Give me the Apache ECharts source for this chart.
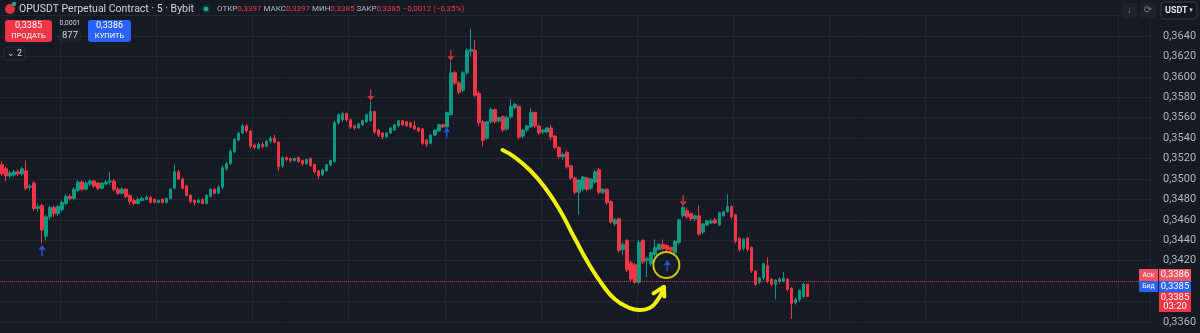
<!DOCTYPE html>
<html><head><meta charset="utf-8">
<script src="https://cdn.jsdelivr.net/npm/echarts/dist/echarts.min.js"></script>
<style>html,body{margin:0;padding:0;background:#161a25;}#c{width:1200px;height:333px;}</style>
</head><body><div id="c"></div><script>
// ---- data ----
const symbolTitle = 'OPUSDT Perpetual Contract · 5 · Bybit';
const ohlcLabels = ['ОТКР', 'МАКС', 'МИН', 'ЗАКР'];
const ohlcValues = ['0,3397', '0,3397', '0,3385', '0,3385'];
const changeText = '−0,0012 (−0,35%)';
const sellPrice = '0,3385', buyPrice = '0,3386', spreadTick = '0,0001', qty = '877';
const priceTicks = [0.3360, 0.3380, 0.3400, 0.3420, 0.3440, 0.3460, 0.3480, 0.3500, 0.3520, 0.3540, 0.3560, 0.3580, 0.3600, 0.3620, 0.3640];
const hiddenTicks = ['0,3380', '0,3400', '0,3660'];
const lastPrice = 0.3385;
const countdown = '03:20';
// candles: [open, close, low, high]
const ohlc = [
[0.3514,0.3505,0.3503,0.3517],[0.3510,0.3503,0.3498,0.3512],[0.3503,0.3506,0.3501,0.3508],[0.3504,0.3507,0.3502,0.3509],
[0.3507,0.3505,0.3503,0.3509],[0.3505,0.3510,0.3503,0.3512],[0.3508,0.3491,0.3489,0.3518],[0.3492,0.3493,0.3489,0.3495],
[0.3496,0.3471,0.3469,0.3498],[0.3471,0.3473,0.3468,0.3476],[0.3474,0.3450,0.3437,0.3476],[0.3444,0.3463,0.3440,0.3465],
[0.3463,0.3472,0.3460,0.3474],[0.3472,0.3466,0.3463,0.3474],[0.3466,0.3473,0.3464,0.3475],[0.3470,0.3477,0.3468,0.3479],
[0.3476,0.3483,0.3474,0.3485],[0.3483,0.3481,0.3479,0.3485],[0.3481,0.3490,0.3479,0.3492],[0.3489,0.3497,0.3487,0.3499],
[0.3497,0.3490,0.3488,0.3499],[0.3490,0.3496,0.3489,0.3498],[0.3495,0.3498,0.3493,0.3500],[0.3498,0.3493,0.3491,0.3499],
[0.3496,0.3491,0.3489,0.3497],[0.3491,0.3496,0.3490,0.3497],[0.3495,0.3497,0.3494,0.3499],[0.3497,0.3498,0.3494,0.3507],
[0.3498,0.3490,0.3488,0.3500],[0.3490,0.3486,0.3484,0.3492],[0.3486,0.3490,0.3485,0.3492],[0.3490,0.3483,0.3481,0.3491],
[0.3484,0.3478,0.3475,0.3485],[0.3479,0.3476,0.3474,0.3481],[0.3476,0.3480,0.3475,0.3482],[0.3479,0.3481,0.3478,0.3483],
[0.3480,0.3482,0.3479,0.3484],[0.3482,0.3477,0.3476,0.3483],[0.3480,0.3477,0.3476,0.3481],[0.3477,0.3479,0.3476,0.3480],
[0.3480,0.3477,0.3476,0.3481],[0.3477,0.3481,0.3476,0.3482],[0.3481,0.3490,0.3480,0.3491],[0.3491,0.3507,0.3490,0.3514],
[0.3507,0.3500,0.3499,0.3509],[0.3500,0.3491,0.3490,0.3501],[0.3493,0.3484,0.3483,0.3494],[0.3484,0.3478,0.3476,0.3485],
[0.3479,0.3477,0.3474,0.3480],[0.3477,0.3479,0.3476,0.3481],[0.3480,0.3476,0.3475,0.3481],[0.3476,0.3484,0.3475,0.3485],
[0.3483,0.3490,0.3482,0.3491],[0.3490,0.3486,0.3485,0.3491],[0.3486,0.3492,0.3485,0.3494],[0.3492,0.3511,0.3490,0.3513],
[0.3510,0.3515,0.3508,0.3517],[0.3515,0.3527,0.3514,0.3529],[0.3527,0.3539,0.3525,0.3540],[0.3538,0.3545,0.3537,0.3546],
[0.3545,0.3552,0.3544,0.3554],[0.3552,0.3547,0.3545,0.3554],[0.3547,0.3532,0.3530,0.3548],[0.3533,0.3531,0.3529,0.3535],
[0.3530,0.3534,0.3529,0.3536],[0.3534,0.3532,0.3530,0.3536],[0.3532,0.3537,0.3531,0.3538],[0.3537,0.3540,0.3535,0.3542],
[0.3540,0.3536,0.3535,0.3543],[0.3536,0.3512,0.3508,0.3537],[0.3513,0.3521,0.3511,0.3522],[0.3521,0.3519,0.3517,0.3522],
[0.3520,0.3518,0.3516,0.3521],[0.3518,0.3520,0.3517,0.3521],[0.3521,0.3517,0.3516,0.3522],[0.3518,0.3515,0.3513,0.3519],
[0.3515,0.3519,0.3514,0.3520],[0.3520,0.3513,0.3512,0.3521],[0.3514,0.3507,0.3505,0.3515],[0.3508,0.3503,0.3500,0.3509],
[0.3504,0.3509,0.3503,0.3510],[0.3508,0.3514,0.3507,0.3515],[0.3514,0.3518,0.3512,0.3519],[0.3517,0.3555,0.3516,0.3557],
[0.3555,0.3563,0.3553,0.3564],[0.3558,0.3564,0.3556,0.3566],[0.3564,0.3558,0.3556,0.3565],[0.3558,0.3551,0.3549,0.3559],
[0.3552,0.3550,0.3548,0.3553],[0.3550,0.3554,0.3549,0.3555],[0.3553,0.3557,0.3552,0.3558],[0.3556,0.3563,0.3555,0.3564],
[0.3557,0.3566,0.3556,0.3576],[0.3566,0.3546,0.3544,0.3567],[0.3548,0.3543,0.3541,0.3549],[0.3545,0.3541,0.3539,0.3546],
[0.3541,0.3545,0.3540,0.3546],[0.3545,0.3550,0.3544,0.3551],[0.3548,0.3553,0.3547,0.3554],[0.3552,0.3557,0.3551,0.3558],
[0.3557,0.3553,0.3552,0.3558],[0.3556,0.3552,0.3551,0.3557],[0.3555,0.3551,0.3550,0.3556],[0.3552,0.3549,0.3548,0.3557],
[0.3550,0.3547,0.3546,0.3551],[0.3549,0.3535,0.3533,0.3550],[0.3538,0.3534,0.3531,0.3539],[0.3535,0.3543,0.3534,0.3544],
[0.3543,0.3548,0.3542,0.3549],[0.3547,0.3553,0.3546,0.3554],[0.3553,0.3551,0.3550,0.3554],[0.3551,0.3565,0.3550,0.3566],
[0.3563,0.3604,0.3562,0.3615],[0.3604,0.3594,0.3592,0.3606],[0.3594,0.3585,0.3583,0.3596],[0.3587,0.3604,0.3585,0.3606],
[0.3604,0.3626,0.3602,0.3628],[0.3625,0.3627,0.3620,0.3647],[0.3626,0.3582,0.3580,0.3636],[0.3584,0.3555,0.3552,0.3586],
[0.3556,0.3538,0.3532,0.3558],[0.3540,0.3556,0.3538,0.3557],[0.3556,0.3568,0.3554,0.3570],[0.3568,0.3556,0.3554,0.3569],
[0.3557,0.3560,0.3555,0.3561],[0.3561,0.3548,0.3546,0.3562],[0.3549,0.3560,0.3547,0.3562],[0.3561,0.3571,0.3559,0.3578],
[0.3570,0.3573,0.3568,0.3575],[0.3571,0.3541,0.3539,0.3572],[0.3542,0.3548,0.3540,0.3549],[0.3548,0.3552,0.3546,0.3553],
[0.3551,0.3565,0.3550,0.3569],[0.3565,0.3552,0.3550,0.3566],[0.3552,0.3545,0.3543,0.3553],[0.3546,0.3548,0.3544,0.3549],
[0.3546,0.3550,0.3545,0.3551],[0.3550,0.3541,0.3538,0.3553],[0.3542,0.3531,0.3529,0.3543],[0.3531,0.3522,0.3520,0.3532],
[0.3522,0.3524,0.3519,0.3526],[0.3526,0.3512,0.3510,0.3528],[0.3513,0.3501,0.3499,0.3514],[0.3501,0.3487,0.3485,0.3502],
[0.3487,0.3499,0.3465,0.3500],[0.3490,0.3502,0.3488,0.3503],[0.3501,0.3490,0.3488,0.3502],[0.3491,0.3500,0.3489,0.3501],
[0.3497,0.3507,0.3495,0.3509],[0.3509,0.3487,0.3485,0.3511],[0.3487,0.3490,0.3485,0.3491],[0.3490,0.3477,0.3475,0.3491],
[0.3478,0.3458,0.3456,0.3479],[0.3456,0.3460,0.3454,0.3462],[0.3461,0.3430,0.3428,0.3462],[0.3431,0.3436,0.3426,0.3438],
[0.3440,0.3411,0.3409,0.3441],[0.3418,0.3402,0.3400,0.3420],[0.3416,0.3399,0.3397,0.3418],[0.3399,0.3438,0.3397,0.3440],
[0.3440,0.3419,0.3417,0.3441],[0.3420,0.3422,0.3404,0.3424],[0.3417,0.3428,0.3415,0.3429],[0.3426,0.3433,0.3424,0.3441],
[0.3431,0.3436,0.3430,0.3437],[0.3436,0.3432,0.3430,0.3441],[0.3435,0.3431,0.3429,0.3436],[0.3433,0.3430,0.3428,0.3434],
[0.3428,0.3439,0.3427,0.3440],[0.3438,0.3460,0.3436,0.3461],[0.3464,0.3472,0.3462,0.3474],[0.3469,0.3463,0.3461,0.3472],
[0.3466,0.3461,0.3459,0.3467],[0.3461,0.3464,0.3459,0.3465],[0.3464,0.3446,0.3444,0.3474],[0.3448,0.3456,0.3446,0.3457],
[0.3455,0.3459,0.3454,0.3460],[0.3457,0.3459,0.3456,0.3461],[0.3460,0.3457,0.3456,0.3462],[0.3455,0.3467,0.3454,0.3468],
[0.3464,0.3468,0.3463,0.3469],[0.3468,0.3473,0.3467,0.3485],[0.3473,0.3463,0.3461,0.3474],[0.3465,0.3439,0.3437,0.3466],
[0.3442,0.3431,0.3429,0.3443],[0.3432,0.3441,0.3430,0.3442],[0.3442,0.3431,0.3429,0.3443],[0.3433,0.3410,0.3408,0.3434],
[0.3410,0.3397,0.3395,0.3411],[0.3399,0.3403,0.3397,0.3404],[0.3403,0.3417,0.3401,0.3418],[0.3415,0.3400,0.3398,0.3423],
[0.3402,0.3397,0.3395,0.3403],[0.3397,0.3401,0.3382,0.3402],[0.3400,0.3402,0.3398,0.3404],[0.3400,0.3403,0.3399,0.3409],
[0.3402,0.3392,0.3390,0.3403],[0.3393,0.3378,0.3363,0.3394],[0.3379,0.3382,0.3377,0.3384],[0.3382,0.3391,0.3380,0.3392],
[0.3385,0.3397,0.3383,0.3398],[0.3397,0.3385,0.3385,0.3397]
];
const slotCount = 287; // visible bar slots incl. empty right margin
const startMinutes = 6 * 60 + 35;
const categories = [];
for (let i = 0; i < slotCount; i++) {
  const m = (startMinutes + 5 * i) % 1440;
  categories.push(String(Math.floor(m / 60)).padStart(2, '0') + ':' + String(m % 60).padStart(2, '0'));
}
// signal arrows: [bar index, price where arrow sits]
const upArrows = [[10, 0.3430], [111, 0.3545], [166, 0.3415]];
const downArrows = [[92, 0.3582], [112, 0.3621], [170, 0.3479]];
// hand-drawn yellow annotation: [bar index, price]
const yellowCurve = [[124.9,0.35284],[127.9,0.35215],[131.7,0.35088],[135.4,0.34922],[139.2,0.34696],[142.9,0.34422],
  [146.6,0.34158],[149.9,0.33962],[152.9,0.33825],[156.1,0.33747],[159.1,0.33717],[161.6,0.33737],[163.6,0.33815],[164.9,0.33905]];
const yellowHead = [[162.6,0.33880],[165.2,0.33945],[165.3,0.33850]];
const circleMark = [[165.8, 0.34158]];

// ---- chart ----
const UP = '#089981', DOWN = '#f23645', BG = '#161a25', GRID = '#232733', TXT = '#b2b5be';
const fmt = v => v.toFixed(4).replace('.', ',');
const chart = echarts.init(document.getElementById('c'), null, { renderer: 'canvas' });
const FONT = 'Roboto, "Noto Sans", sans-serif';

const graphics = [];
// top-left title
graphics.push({ type: 'circle', shape: { cx: 10, cy: 9, r: 5 }, style: { fill: '#e0303a' } });
graphics.push({ type: 'circle', shape: { cx: 14, cy: 4, r: 2.2 }, style: { fill: '#2a9d8f' } });
graphics.push({ type: 'text', x: 19, y: 9, style: { text: symbolTitle, fill: '#d1d4dc', font: '10.5px ' + FONT, verticalAlign: 'middle' } });
graphics.push({ type: 'circle', shape: { cx: 206, cy: 9, r: 4 }, style: { fill: '#0b3b34' } });
graphics.push({ type: 'circle', shape: { cx: 206, cy: 9, r: 2.3 }, style: { fill: '#22ab94' } });
let richStr = '';
for (let k = 0; k < 4; k++) richStr += '{l|' + ohlcLabels[k] + '}{v|' + ohlcValues[k] + '} ';
richStr += '{v|' + changeText + '}';
graphics.push({ type: 'text', x: 217, y: 9, style: {
  text: richStr, verticalAlign: 'middle', font: '8px ' + FONT,
  rich: { l: { fill: TXT, font: '8px ' + FONT }, v: { fill: DOWN, font: '8px ' + FONT } } } });
// trade buttons
graphics.push({ type: 'rect', shape: { x: 5, y: 20, width: 47, height: 22, r: 3 }, style: { fill: '#f23645' } });
graphics.push({ type: 'text', x: 28.5, y: 26, style: { text: sellPrice, fill: '#fff', font: '9px ' + FONT, align: 'center', verticalAlign: 'middle' } });
graphics.push({ type: 'text', x: 28.5, y: 36, style: { text: 'ПРОДАТЬ', fill: '#fff', font: '7.5px ' + FONT, align: 'center', verticalAlign: 'middle' } });
graphics.push({ type: 'text', x: 70, y: 23, style: { text: spreadTick, fill: '#d1d4dc', font: '7px ' + FONT, align: 'center', verticalAlign: 'middle' } });
graphics.push({ type: 'rect', shape: { x: 59, y: 29, width: 22, height: 13, r: 2 }, style: { fill: '#1e222d' } });
graphics.push({ type: 'text', x: 70, y: 35.5, style: { text: qty, fill: '#d1d4dc', font: '9.5px ' + FONT, align: 'center', verticalAlign: 'middle' } });
graphics.push({ type: 'rect', shape: { x: 88, y: 20, width: 43, height: 22, r: 3 }, style: { fill: '#2962ff' } });
graphics.push({ type: 'text', x: 109.5, y: 26, style: { text: buyPrice, fill: '#fff', font: '9px ' + FONT, align: 'center', verticalAlign: 'middle' } });
graphics.push({ type: 'text', x: 109.5, y: 36, style: { text: 'КУПИТЬ', fill: '#fff', font: '7.5px ' + FONT, align: 'center', verticalAlign: 'middle' } });
graphics.push({ type: 'rect', shape: { x: 4, y: 47, width: 21, height: 13, r: 2 }, style: { fill: '#161a25', stroke: '#2a2e39' } });
graphics.push({ type: 'text', x: 14.5, y: 53.5, style: { text: '⌄ 2', fill: '#d1d4dc', font: '9px ' + FONT, align: 'center', verticalAlign: 'middle' } });
// top-right controls
graphics.push({ type: 'rect', shape: { x: 1122, y: 3, width: 15, height: 15, r: 2 }, style: { fill: '#1e222d' } });
graphics.push({ type: 'text', x: 1129.5, y: 10.5, style: { text: '↓', fill: '#787b86', font: '10px ' + FONT, align: 'center', verticalAlign: 'middle' } });
graphics.push({ type: 'rect', shape: { x: 1140, y: 3, width: 16, height: 15, r: 2 }, style: { fill: '#1e222d' } });
graphics.push({ type: 'text', x: 1148, y: 10.5, style: { text: '⟳', fill: '#787b86', font: '10px "DejaVu Sans"', align: 'center', verticalAlign: 'middle' } });
graphics.push({ type: 'rect', shape: { x: 1161, y: 2, width: 36, height: 17, r: 3 }, style: { fill: '#131722', stroke: '#363a45' } });
graphics.push({ type: 'text', x: 1165, y: 10.5, style: { text: 'USDT', fill: '#e0e3eb', font: 'bold 9px ' + FONT, verticalAlign: 'middle' } });
graphics.push({ type: 'text', x: 1191, y: 10.5, style: { text: '▾', fill: '#d1d4dc', font: '7px "DejaVu Sans"', align: 'center', verticalAlign: 'middle' } });
// price tags
graphics.push({ type: 'rect', shape: { x: 1139, y: 269, width: 19, height: 12 }, style: { fill: '#f7525f' } });
graphics.push({ type: 'text', x: 1148.5, y: 275, style: { text: 'Аск', fill: '#fff', font: '7px ' + FONT, align: 'center', verticalAlign: 'middle' } });
graphics.push({ type: 'rect', shape: { x: 1159, y: 269, width: 32, height: 12 }, style: { fill: '#f7525f' } });
graphics.push({ type: 'text', x: 1175, y: 275, style: { text: buyPrice, fill: '#fff', font: '9.5px ' + FONT, align: 'center', verticalAlign: 'middle' } });
graphics.push({ type: 'rect', shape: { x: 1139, y: 281, width: 19, height: 11 }, style: { fill: '#2962ff' } });
graphics.push({ type: 'text', x: 1148.5, y: 286.5, style: { text: 'Бид', fill: '#fff', font: '7px ' + FONT, align: 'center', verticalAlign: 'middle' } });
graphics.push({ type: 'rect', shape: { x: 1159, y: 281, width: 32, height: 11 }, style: { fill: '#2962ff' } });
graphics.push({ type: 'text', x: 1175, y: 286.5, style: { text: sellPrice, fill: '#fff', font: '9.5px ' + FONT, align: 'center', verticalAlign: 'middle' } });
graphics.push({ type: 'rect', shape: { x: 1159, y: 292, width: 32, height: 20 }, style: { fill: '#f23645' } });
graphics.push({ type: 'text', x: 1175, y: 297.5, style: { text: fmt(lastPrice), fill: '#fff', font: '9.5px ' + FONT, align: 'center', verticalAlign: 'middle' } });
graphics.push({ type: 'text', x: 1175, y: 307, style: { text: countdown, fill: '#fff', font: '9.5px ' + FONT, align: 'center', verticalAlign: 'middle' } });
graphics.forEach(g => { g.z = 100; });

const arrowPath = 'path://M5,0 L10,6 L6,6 L6,14 L4,14 L4,6 L0,6 Z';

chart.setOption({
  backgroundColor: BG,
  animation: false,
  grid: { left: 0, right: 50, top: 15.57, bottom: 11, containLabel: false },
  xAxis: [{
    type: 'category', data: categories, boundaryGap: true,
    axisLine: { show: false }, axisTick: { show: false }, axisLabel: { show: false },
    splitLine: { show: true, interval: (i) => i % 24 === 15, lineStyle: { color: GRID, width: 1 } }
  }, {
    type: 'value', min: -0.5, max: slotCount - 0.5, show: false
  }],
  yAxis: {
    type: 'value', position: 'right', min: 0.3360, max: 0.3660, interval: 0.0020, scale: true,
    axisLine: { show: false }, axisTick: { show: false },
    axisLabel: {
      color: TXT, fontSize: 11, fontFamily: FONT, margin: 13,
      formatter: v => { const s = fmt(v); return hiddenTicks.includes(s) ? '' : s; }
    },
    splitLine: { lineStyle: { color: GRID, width: 1 } }
  },
  graphic: { elements: graphics },
  series: [{
    type: 'candlestick', data: ohlc, barWidth: 3,
    itemStyle: { color: UP, color0: DOWN, borderColor: UP, borderColor0: DOWN, borderWidth: 1 },
    markLine: {
      silent: true, symbol: ['none', 'none'], label: { show: false },
      lineStyle: { color: '#f23645', type: 'dotted', width: 1, opacity: 0.8 },
      data: [{ yAxis: lastPrice }]
    }
  }, {
    type: 'scatter', xAxisIndex: 1, data: upArrows, symbol: arrowPath, symbolSize: [7, 11],
    itemStyle: { color: '#2962ff' }, z: 5
  }, {
    type: 'scatter', xAxisIndex: 1, data: downArrows, symbol: arrowPath, symbolSize: [7, 11], symbolRotate: 180,
    itemStyle: { color: '#f23645' }, z: 5
  }, {
    type: 'line', xAxisIndex: 1, data: yellowCurve, smooth: 0.5, showSymbol: false,
    lineStyle: { color: '#f2f200', width: 4, cap: 'round', join: 'round' }, z: 6
  }, {
    type: 'line', xAxisIndex: 1, data: yellowHead, showSymbol: false,
    lineStyle: { color: '#f2f200', width: 4, cap: 'round', join: 'round' }, z: 6
  }, {
    type: 'scatter', xAxisIndex: 1, data: circleMark, symbol: 'circle', symbolSize: 26,
    itemStyle: { color: 'rgba(0,0,0,0)', borderColor: '#f2f200', borderWidth: 2 }, z: 4
  }]
});
</script></body></html>
